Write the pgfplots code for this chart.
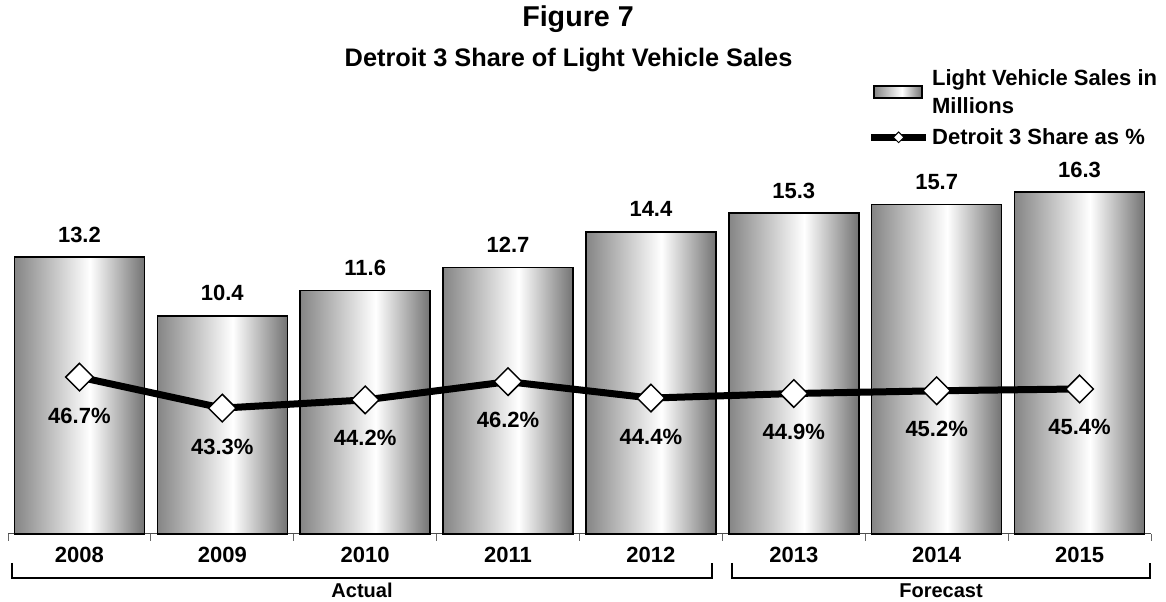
\documentclass[border=0pt]{standalone}
\usepackage{pgfplots}
\pgfplotsset{compat=1.18}
\usepackage{fontspec}
\setmainfont{Liberation Sans}
\definecolor{barL}{HTML}{858585}
\definecolor{barR}{HTML}{737373}
\pgfdeclarehorizontalshading{barshade}{100bp}{color(0bp)=(barL); color(25bp)=(barL); color(54bp)=(white); color(75bp)=(barR); color(100bp)=(barR)}
\newcommand{\lblfont}{\fontsize{16.5}{20}\selectfont\bfseries}
\begin{document}
\begin{tikzpicture}
\pgfplotsset{
  base/.style={scale only axis, width=857.25pt, height=314.7pt,
    xmin=-0.5, xmax=7.5, clip=false, at={(6pt,51pt)}, anchor=south west},
  mybar/.style={ybar, bar width=97.5pt, bar shift=0pt, draw=black, line width=1.1pt,
    shading=barshade,
    nodes near coords, point meta=explicit symbolic,
    every node near coord/.append style={font=\lblfont, text=black, anchor=base, yshift=11.25pt}},
}
\begin{axis}[base, ymin=0, ymax=20,
  axis y line=none, axis x line*=bottom,
  x axis line style={-, line width=0.75pt, draw=black!70},
  xtick={0,...,7},
  xticklabels={2008,2009,2010,2011,2012,2013,2014,2015},
  major x tick style={draw=none},
  minor xtick={-0.5,0.5,...,7.5},
  minor x tick style={line width=0.75pt, draw=black!60},
  minor tick length=5.25pt, major tick length=0pt, tick align=outside,
  xticklabel style={font=\lblfont, anchor=base, yshift=-21.75pt},
]
\addplot[mybar] coordinates {(0,13.2)[13.2]};
\addplot[mybar] coordinates {(1,10.4)[10.4]};
\addplot[mybar] coordinates {(2,11.6)[11.6]};
\addplot[mybar] coordinates {(3,12.7)[12.7]};
\addplot[mybar] coordinates {(4,14.4)[14.4]};
\addplot[mybar] coordinates {(5,15.3)[15.3]};
\addplot[mybar] coordinates {(6,15.7)[15.7]};
\addplot[mybar] coordinates {(7,16.3)[16.3]};
\end{axis}
\begin{axis}[base, ymin=29.5, ymax=75.5, hide x axis, hide y axis,
  legend style={at={(0.752,1.115)}, anchor=north west, draw=none, fill=none,
    inner sep=0pt, font=\fontsize{16.5}{21}\selectfont\bfseries,
    cells={anchor=west, align=left}, row sep=6pt},
  legend cell align=left,
]
\addlegendimage{legend image code/.code={
  \draw[draw=black, line width=1.1pt, shading=barshade]
    (2pt,-4.5pt) rectangle (38pt,4.5pt);}}
\addlegendentry{Light Vehicle Sales in\\Millions}
\addplot[black, line width=5.25pt, mark=square*, mark size=7.3pt,
  mark options={fill=white, draw=black, line width=1.1pt, rotate=45},
  legend image code/.code={
    \draw[black, line width=5.25pt] (0pt,0pt) -- (41pt,0pt);
    \draw[fill=white, draw=black, line width=0.75pt] (20.5pt,4pt) -- (24.5pt,0pt) -- (20.5pt,-4pt) -- (16.5pt,0pt) -- cycle;},
  nodes near coords, point meta=explicit symbolic,
  every node near coord/.append style={font=\lblfont, text=black, anchor=base, yshift=-34.5pt}]
coordinates {(0,46.7)[46.7\%] (1,43.3)[43.3\%] (2,44.2)[44.2\%] (3,46.2)[46.2\%]
             (4,44.4)[44.4\%] (5,44.9)[44.9\%] (6,45.2)[45.2\%] (7,45.4)[45.4\%]};
\addlegendentry{Detroit 3 Share as \%}
\end{axis}
\draw[line width=1.5pt] (9pt,29.25pt) -- (9pt,18pt) -- (534pt,18pt) -- (534pt,29.25pt);
\draw[line width=1.5pt] (549pt,29.25pt) -- (549pt,18pt) -- (862.5pt,18pt) -- (862.5pt,29.25pt);
\node[anchor=base, font=\fontsize{15}{18}\selectfont\bfseries] at (271.5pt,3pt) {Actual};
\node[anchor=base, font=\fontsize{15}{18}\selectfont\bfseries] at (705.75pt,3pt) {Forecast};
\node[anchor=base, font=\fontsize{21.5}{24}\selectfont\bfseries] at (433.5pt,431.25pt) {Figure 7};
\node[anchor=base west, font=\fontsize{19}{22}\selectfont\bfseries] at (255pt,401.25pt) {Detroit 3 Share of Light Vehicle Sales};
\pgfresetboundingbox
\path (0pt,0pt) rectangle (874.5pt,451.5pt);
\end{tikzpicture}
\end{document}
